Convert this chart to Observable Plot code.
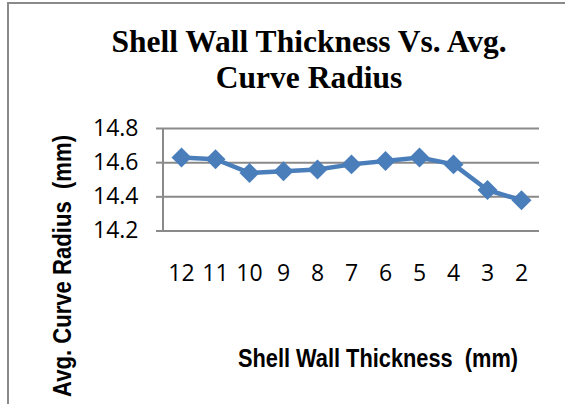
<!DOCTYPE html>
<html><head><meta charset="utf-8">
<script src="https://cdn.jsdelivr.net/npm/d3@7"></script>
<script src="https://cdn.jsdelivr.net/npm/@observablehq/plot@0.6"></script>
<style>
html,body{margin:0;padding:0;background:#fff;}
#chart{width:565px;height:404px;overflow:hidden;position:relative;}
</style></head><body><div id="chart"></div>
<script>
const thickness = ["12","11","10","9","8","7","6","5","4","3","2"];
const avgRadius = [14.63,14.62,14.54,14.55,14.56,14.59,14.61,14.63,14.59,14.44,14.38];
const yTicks = [14.2,14.4,14.6,14.8];
const titleLines = ["Shell Wall Thickness Vs. Avg.", "Curve Radius"];
const xTitle = "Shell Wall Thickness  (mm)";
const yTitle = "Avg. Curve Radius  (mm)";

const data = thickness.map((t, i) => ({t, r: avgRadius[i]}));
const blue = "#4a7ebb", grid = "#8a8a8a";

const chart = Plot.plot({
  width: 565, height: 404,
  marginLeft: 163, marginRight: 26, marginTop: 128, marginBottom: 173.5,
  style: {fontFamily: "'Open Sans', sans-serif", fontSize: "23px", color: "#000", background: "#fff", overflow: "visible"},
  x: {type: "point", domain: thickness, padding: 0.5},
  y: {domain: [14.2, 14.8]},
  marks: [
    Plot.gridY(yTicks, {stroke: grid, strokeOpacity: 1, strokeWidth: 2}),
    Plot.axisY(yTicks, {tickSize: 7, tickPadding: 18, stroke: grid, strokeWidth: 2, fill: "#000",
      tickFormat: d => d.toFixed(1), fontSize: 23, label: null}),
    Plot.axisX({tickSize: 0, tickPadding: 34, fontSize: 23, label: null, fill: "#000"}),
    Plot.line(data, {x: "t", y: "r", stroke: blue, strokeWidth: 4.5}),
    Plot.dot(data, {x: "t", y: "r", symbol: "diamond2", r: 9, fill: blue, stroke: "none"})
  ]
});

const svg = d3.select(chart);
const ys = chart.scale("y");
// frame border
svg.insert("rect", ":first-child")
  .attr("x", 8).attr("y", 3).attr("width", 700).attr("height", 600)
  .attr("fill", "none").attr("stroke", grid).attr("stroke-width", 2);
// y axis line
svg.append("line")
  .attr("x1", 163).attr("x2", 163)
  .attr("y1", ys.apply(14.8)).attr("y2", ys.apply(14.2))
  .attr("stroke", grid).attr("stroke-width", 2);
// title
const tt = svg.append("text")
  .attr("text-anchor", "middle")
  .attr("font-family", "'Liberation Serif', 'Times New Roman', serif")
  .attr("font-weight", "bold").attr("font-size", 31.5).attr("fill", "#000");
titleLines.forEach((line, i) => {
  tt.append("tspan").attr("x", 309).attr("y", 52 + i * 36).text(line);
});
// x title
svg.append("text")
  .attr("x", 238).attr("y", 367)
  .attr("text-anchor", "start")
  .attr("font-family", "'Liberation Sans', Arial, sans-serif")
  .attr("font-weight", "bold").attr("font-size", 26).attr("fill", "#000")
  .attr("textLength", 280).attr("lengthAdjust", "spacingAndGlyphs")
  .style("white-space", "pre")
  .text(xTitle);
// y title
svg.append("text")
  .attr("transform", "translate(71,397) rotate(-90)")
  .attr("text-anchor", "start")
  .attr("font-family", "'Liberation Sans', Arial, sans-serif")
  .attr("font-weight", "bold").attr("font-size", 26).attr("fill", "#000")
  .attr("textLength", 262).attr("lengthAdjust", "spacingAndGlyphs")
  .style("white-space", "pre")
  .text(yTitle);

document.getElementById("chart").appendChild(chart);
</script>
</body></html>
